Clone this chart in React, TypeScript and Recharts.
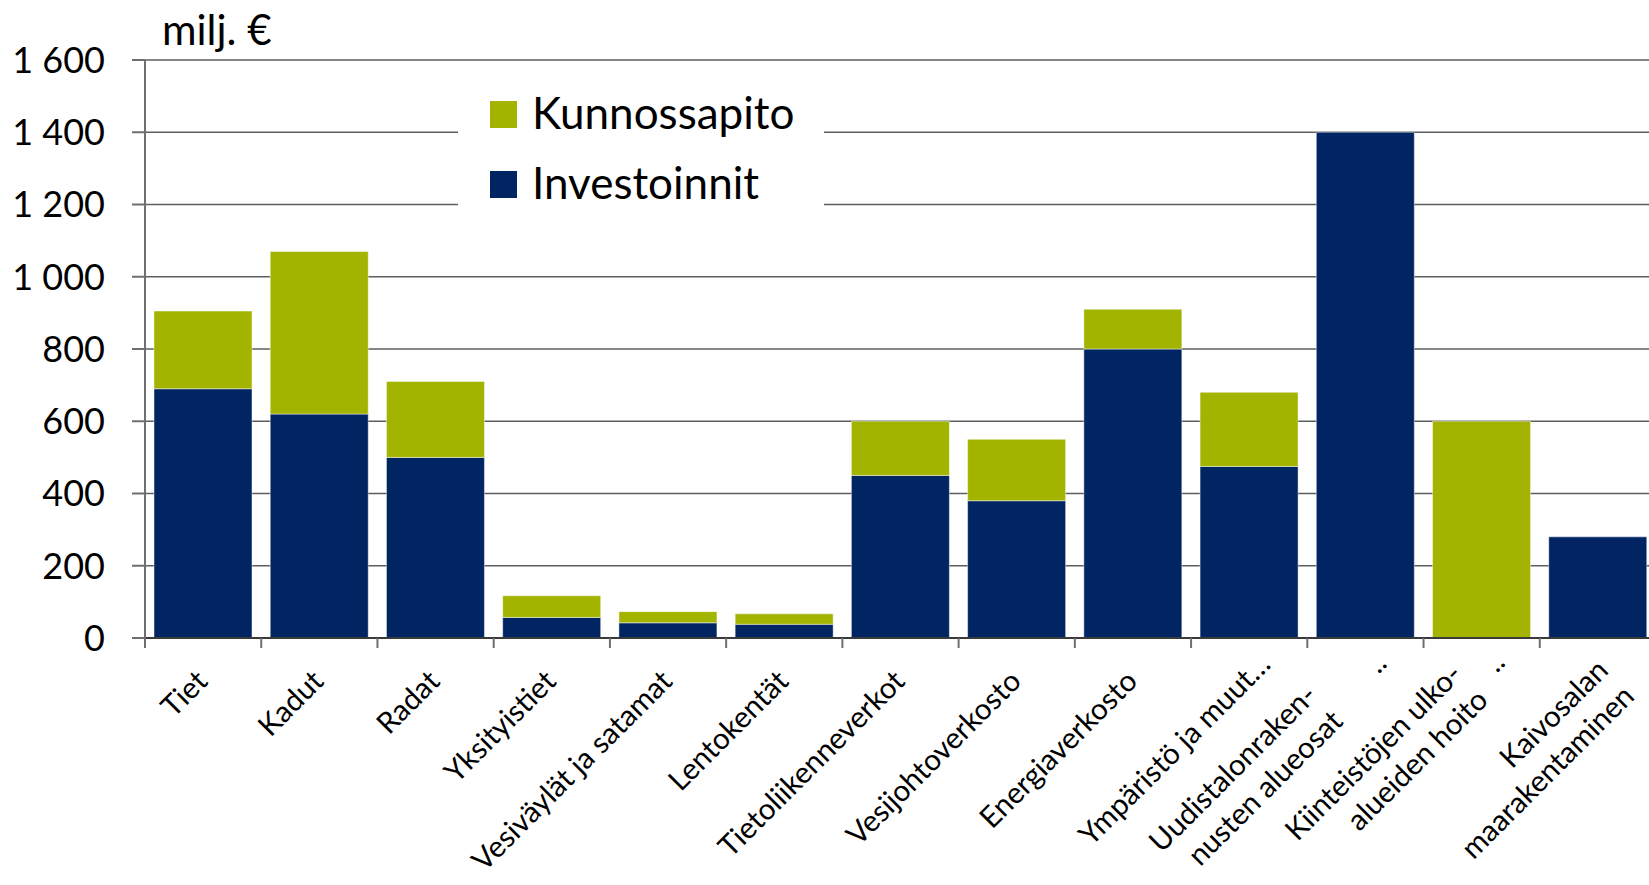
import { BarChart, Bar, XAxis, YAxis, CartesianGrid, Legend } from 'recharts';

const categories = [
  'Tiet',
  'Kadut',
  'Radat',
  'Yksityistiet',
  'Vesiväylät ja satamat',
  'Lentokentät',
  'Tietoliikenneverkot',
  'Vesijohtoverkosto',
  'Energiaverkosto',
  'Ympäristö ja muut…',
  'Uudistalonraken-\nnusten alueosat',
  'Kiinteistöjen ulko-\nalueiden hoito',
  'Kaivosalan\nmaarakentaminen',
];
const investoinnit = [690, 620, 500, 57, 42, 38, 450, 380, 800, 475, 1400, 0, 280];
const kunnossapito = [215, 450, 210, 60, 31, 29, 150, 170, 110, 205, 0, 600, 0];
const yTicks = [0, 200, 400, 600, 800, 1000, 1200, 1400, 1600];
const unitLabel = 'milj. €';
const legendItems = [
  { name: 'Kunnossapito', color: '#a2b300' },
  { name: 'Investoinnit', color: '#002562' },
];

const NAVY = '#002562';
const GREEN = '#a2b300';
const FONT = 'Lato, sans-serif';

const CHART_W = 1680;
const CHART_H = 885;
const MARGIN = { top: 60, right: 24, bottom: 0, left: 0 };
const Y_AXIS_W = 145;
const BAND = (CHART_W - MARGIN.left - MARGIN.right - Y_AXIS_W) / categories.length;

const data = categories.map((name, i) => ({
  name,
  Investoinnit: investoinnit[i],
  Kunnossapito: kunnossapito[i],
}));

// label placement tweaks (Excel shifts some rotated labels)
const labelShift: Record<number, [number, number]> = {
  9: [17, -17],
  10: [-53, 14],
  11: [-24, -7],
  12: [6, -11],
};
const dotsAt: Record<number, [number, number]> = {
  10: [23, 27],
  11: [25, 26],
};

const CategoryTick = (props: any) => {
  const { x, y, payload, index } = props;
  const lines = String(payload.value).split('\n');
  const [sx, sy] = labelShift[index] || [0, 0];
  const ax = x + 6 + sx;
  const ay = y + 45 + sy;
  const bx = x - BAND / 2;
  const dots = dotsAt[index];
  return (
    <g>
      <line x1={bx} x2={bx} y1={y} y2={y + 10} stroke="#6f6f6f" strokeWidth={2} />
      {lines.map((line, i) => {
        const lx = ax + i * 26;
        const ly = ay + i * 26;
        return (
          <text
            key={i}
            x={lx}
            y={ly}
            textAnchor="end"
            transform={`rotate(-45, ${lx}, ${ly})`}
            fontFamily={FONT}
            fontSize={29.5}
            fill="#000"
          >
            {line}
          </text>
        );
      })}
      {dots && (
        <text
          x={x + dots[0]}
          y={y + dots[1]}
          textAnchor="end"
          transform={`rotate(-45, ${x + dots[0]}, ${y + dots[1]})`}
          fontFamily={FONT}
          fontSize={29.5}
          fill="#000"
        >
          ..
        </text>
      )}
    </g>
  );
};

const formatY = (v: number) =>
  v >= 1000 ? `${Math.floor(v / 1000)} ${String(v % 1000).padStart(3, '0')}` : String(v);

const UnitLabel = (props: any) => {
  const vb = props.viewBox || { x: 0, y: MARGIN.top };
  return (
    <text x={vb.x + 162} y={vb.y - 15} fontFamily={FONT} fontSize={42} fill="#000">
      {unitLabel}
    </text>
  );
};

const renderLegend = () => (
  <svg width={366} height={150} style={{ display: 'block', background: '#fff' }}>
    {legendItems.map((item, i) => (
      <g key={item.name}>
        <rect x={32} y={23 + i * 70} width={27} height={27} fill={item.color} />
        <text x={74} y={51 + i * 70} fontFamily={FONT} fontSize={44} fill="#000">
          {item.name}
        </text>
      </g>
    ))}
  </svg>
);

export default function App() {
  return (
    <div
      style={{
        position: 'fixed',
        left: 0,
        top: 0,
        width: 1649,
        height: 885,
        overflow: 'hidden',
        background: '#fff',
      }}
    >
      <BarChart
        width={CHART_W}
        height={CHART_H}
        data={data}
        margin={MARGIN}
        barCategoryGap={9}
      >
        <CartesianGrid vertical={false} stroke="#5e5e5e" strokeWidth={1.5} />
        <XAxis
          dataKey="name"
          interval={0}
          tickLine={false}
          tickSize={0}
          tickMargin={0}
          height={CHART_H - MARGIN.top - 578}
          axisLine={{ stroke: '#3a3a3a', strokeWidth: 2 }}
          tick={<CategoryTick />}
        />
        <YAxis
          width={Y_AXIS_W}
          domain={[0, 1600]}
          ticks={yTicks}
          interval={0}
          tickFormatter={formatY}
          tickSize={13}
          tickMargin={27}
          axisLine={{ stroke: '#6f6f6f', strokeWidth: 2 }}
          tickLine={{ stroke: '#6f6f6f', strokeWidth: 2 }}
          tick={{ fill: '#000', fontSize: 36, fontFamily: FONT }}
          label={<UnitLabel />}
        />
        <Legend
          layout="vertical"
          align="center"
          verticalAlign="middle"
          content={renderLegend}
          wrapperStyle={{ left: 458, top: 78, width: 366, height: 150 }}
        />
        <Bar
          dataKey="Investoinnit"
          stackId="a"
          fill={NAVY}
          stroke="#ffffff"
          strokeOpacity={0.45}
          strokeWidth={1}
          isAnimationActive={false}
        />
        <Bar
          dataKey="Kunnossapito"
          stackId="a"
          fill={GREEN}
          stroke="#ffffff"
          strokeOpacity={0.45}
          strokeWidth={1}
          isAnimationActive={false}
        />
      </BarChart>
    </div>
  );
}
